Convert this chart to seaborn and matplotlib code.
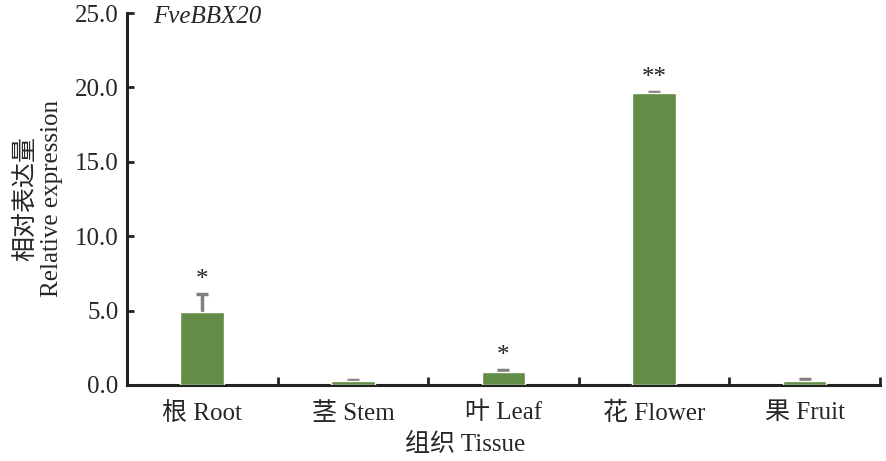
import pandas as pd
import numpy as np
import matplotlib
matplotlib.use('Agg')
import matplotlib.pyplot as plt
import seaborn as sns

# Data
tissues = ['根 Root', '茎 Stem', '叶 Leaf', '花 Flower', '果 Fruit']
expression = [4.9, 0.25, 0.9, 19.6, 0.25]
errors = [1.2, 0.08, 0.12, 0.12, 0.12]
marks = ['*', '', '*', '**', '']
yticks = [0, 5, 10, 15, 20, 25]

sns.set_theme(style='ticks')
plt.rcParams['font.family'] = ['Liberation Serif', 'Noto Sans CJK SC']
plt.rcParams['axes.unicode_minus'] = False

df = pd.DataFrame({'tissue': tissues, 'value': expression})

fig = plt.figure(figsize=(8.87, 4.61), dpi=100)
ax = fig.add_axes([0.1432, 0.1649, 0.8488, 0.8069])

bar_color = '#638c47'
sns.barplot(data=df, x='tissue', y='value', color=bar_color,
            width=0.29, errorbar=None, saturation=1, ax=ax)
for p in ax.patches:
    p.set_zorder(3)
x = np.arange(len(tissues))
# symmetric bars drawn behind the columns so only the upper half shows
ax.errorbar(x, expression, yerr=errors, fmt='none', ecolor='#808080',
            elinewidth=2.5, capsize=4, capthick=2.5, zorder=2)

for xi, v, e, m in zip(x, expression, errors, marks):
    if m:
        ax.text(xi, v + e + 0.2, m, ha='center', va='bottom',
                fontsize=18, color='#222222')

ax.set_xlim(-0.5, len(tissues) - 0.5)
ax.set_ylim(0, 25)
ax.set_yticks(yticks)
ax.set_yticklabels([f'{t:.1f}' for t in yticks], fontsize=18)
ax.set_xticks(x)
ax.set_xticklabels(tissues, fontsize=18)
ax.set_xticks(np.arange(len(tissues)) + 0.5, minor=True)
ax.tick_params(axis='x', which='major', length=0, pad=12)
ax.tick_params(axis='x', which='minor', direction='in', length=6,
               width=2, color='#222222')
ax.tick_params(axis='y', direction='in', length=5, width=2,
               color='#222222', pad=6)

for side in ['top', 'right']:
    ax.spines[side].set_visible(False)
for side in ['left', 'bottom']:
    ax.spines[side].set_linewidth(2.2)
    ax.spines[side].set_color('#222222')

ax.set_xlabel('')
ax.set_ylabel('相对表达量\nRelative expression', fontsize=18,
              linespacing=1.25)
ax.yaxis.set_label_coords(-0.085, 0.5)
fig.text(0.524, 0.035, '组织 Tissue', ha='center', va='center',
         fontsize=18)
ax.text(0.035, 0.99, 'FveBBX20', transform=ax.transAxes, fontsize=18,
        style='italic', ha='left', va='center')

fig.savefig('out.png', dpi=100)
